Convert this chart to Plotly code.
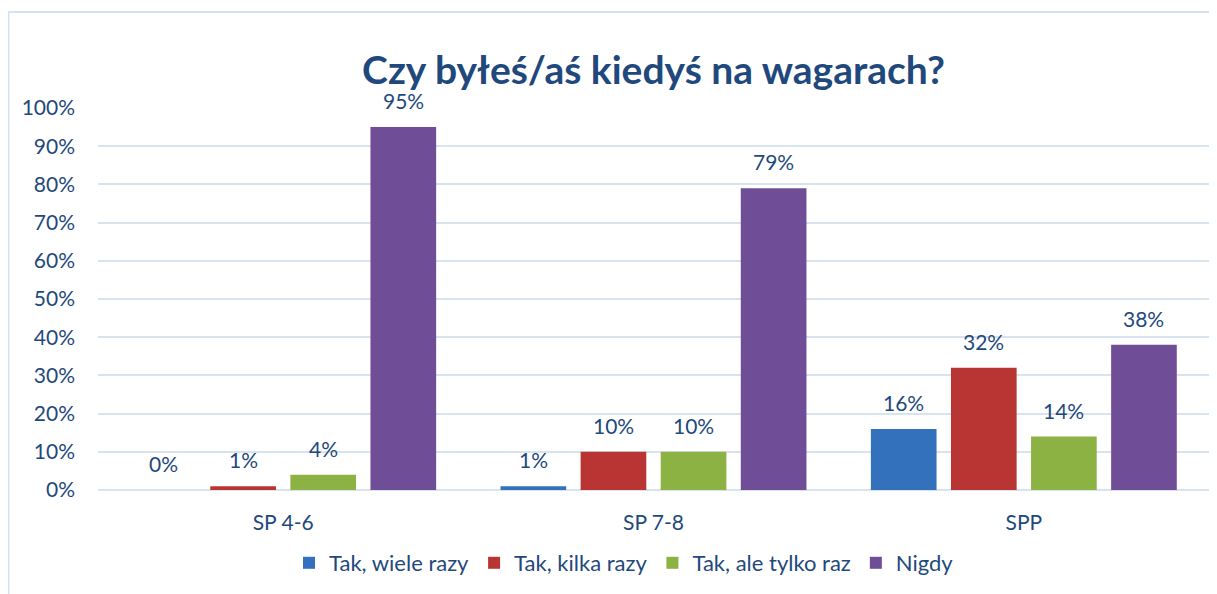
import plotly.graph_objects as go

categories = ["SP 4-6", "SP 7-8", "SPP"]
series_names = ["Tak, wiele razy", "Tak, kilka razy", "Tak, ale tylko raz", "Nigdy"]
wiele_razy = [0, 1, 16]
kilka_razy = [1, 10, 32]
tylko_raz = [4, 10, 14]
nigdy = [95, 79, 38]
y_ticks = [0, 10, 20, 30, 40, 50, 60, 70, 80, 90, 100]
title_text = "Czy byłeś/aś kiedyś na wagarach?"

series_values = [wiele_razy, kilka_razy, tylko_raz, nigdy]
colors = ["#3471BC", "#B83533", "#8CB244", "#6F4E97"]
TXT = "#1F497D"
FONT = "Lato, 'Open Sans', sans-serif"

# page body has an 8px margin, so the figure is 8px smaller
W, H = 1209, 586
ML, MR, MT, MB = 90, 8, 100, 104
BARGAP, GROUPGAP = 0.135, 0.18

pw = W - ML - MR
ph = H - MT - MB
def px_x(p):
    return (p - ML) / pw
def px_y(p):
    return (H - MB - p) / ph

fig = go.Figure()
n = len(series_names)
pitch = pw / len(categories) * (1 - BARGAP) / n
annotations = []
for i, (name, vals, c) in enumerate(zip(series_names, series_values, colors)):
    fig.add_trace(go.Bar(
        x=categories, y=vals, name=name,
        marker=dict(color=c, line=dict(width=0)),
        hoverinfo="skip",
    ))
    for cat, v in zip(categories, vals):
        annotations.append(dict(
            x=cat, y=v, xref="x", yref="y", text=f"{v}%", showarrow=False,
            xanchor="center", yanchor="bottom",
            xshift=(i - (n - 1) / 2) * pitch, yshift=12,
            font=dict(family=FONT, size=21, color=TXT),
        ))

fig.update_layout(
    width=W, height=H,
    margin=dict(l=ML, r=MR, t=MT, b=MB),
    paper_bgcolor="white", plot_bgcolor="white",
    barmode="group", bargap=BARGAP, bargroupgap=GROUPGAP,
    font=dict(family=FONT, color=TXT, size=21),
    title=dict(text=f"<b>{title_text}</b>", x=0.5, xref="paper", xanchor="center",
               y=1 - 62 / H, yref="container", yanchor="middle",
               font=dict(family=FONT, size=39, color=TXT)),
    xaxis=dict(showgrid=False, showline=False, ticks="", ticklabelstandoff=18,
               tickfont=dict(family=FONT, size=21, color=TXT)),
    yaxis=dict(range=[0, 100], tickvals=y_ticks,
               ticktext=[f"{t}%" for t in y_ticks],
               showgrid=True, gridcolor="#D8E3F0", gridwidth=2,
               zeroline=True, zerolinecolor="#D8E3F0", zerolinewidth=2,
               showline=False, ticks="", ticklabelstandoff=22,
               tickfont=dict(family=FONT, size=21, color=TXT)),
    showlegend=True,
    legend=dict(orientation="h", x=px_x(616), xanchor="center",
                y=px_y(555), yanchor="middle",
                font=dict(family=FONT, size=22, color=TXT),
                itemwidth=30, traceorder="normal", bgcolor="rgba(0,0,0,0)"),
    annotations=annotations,
    shapes=[dict(type="rect", xref="paper", yref="paper",
                 x0=px_x(0.5), x1=px_x(1230), y0=px_y(605), y1=px_y(4),
                 line=dict(color="#D6E2F0", width=2), fillcolor="rgba(0,0,0,0)",
                 layer="below")],
)

fig.write_html("out.html")
